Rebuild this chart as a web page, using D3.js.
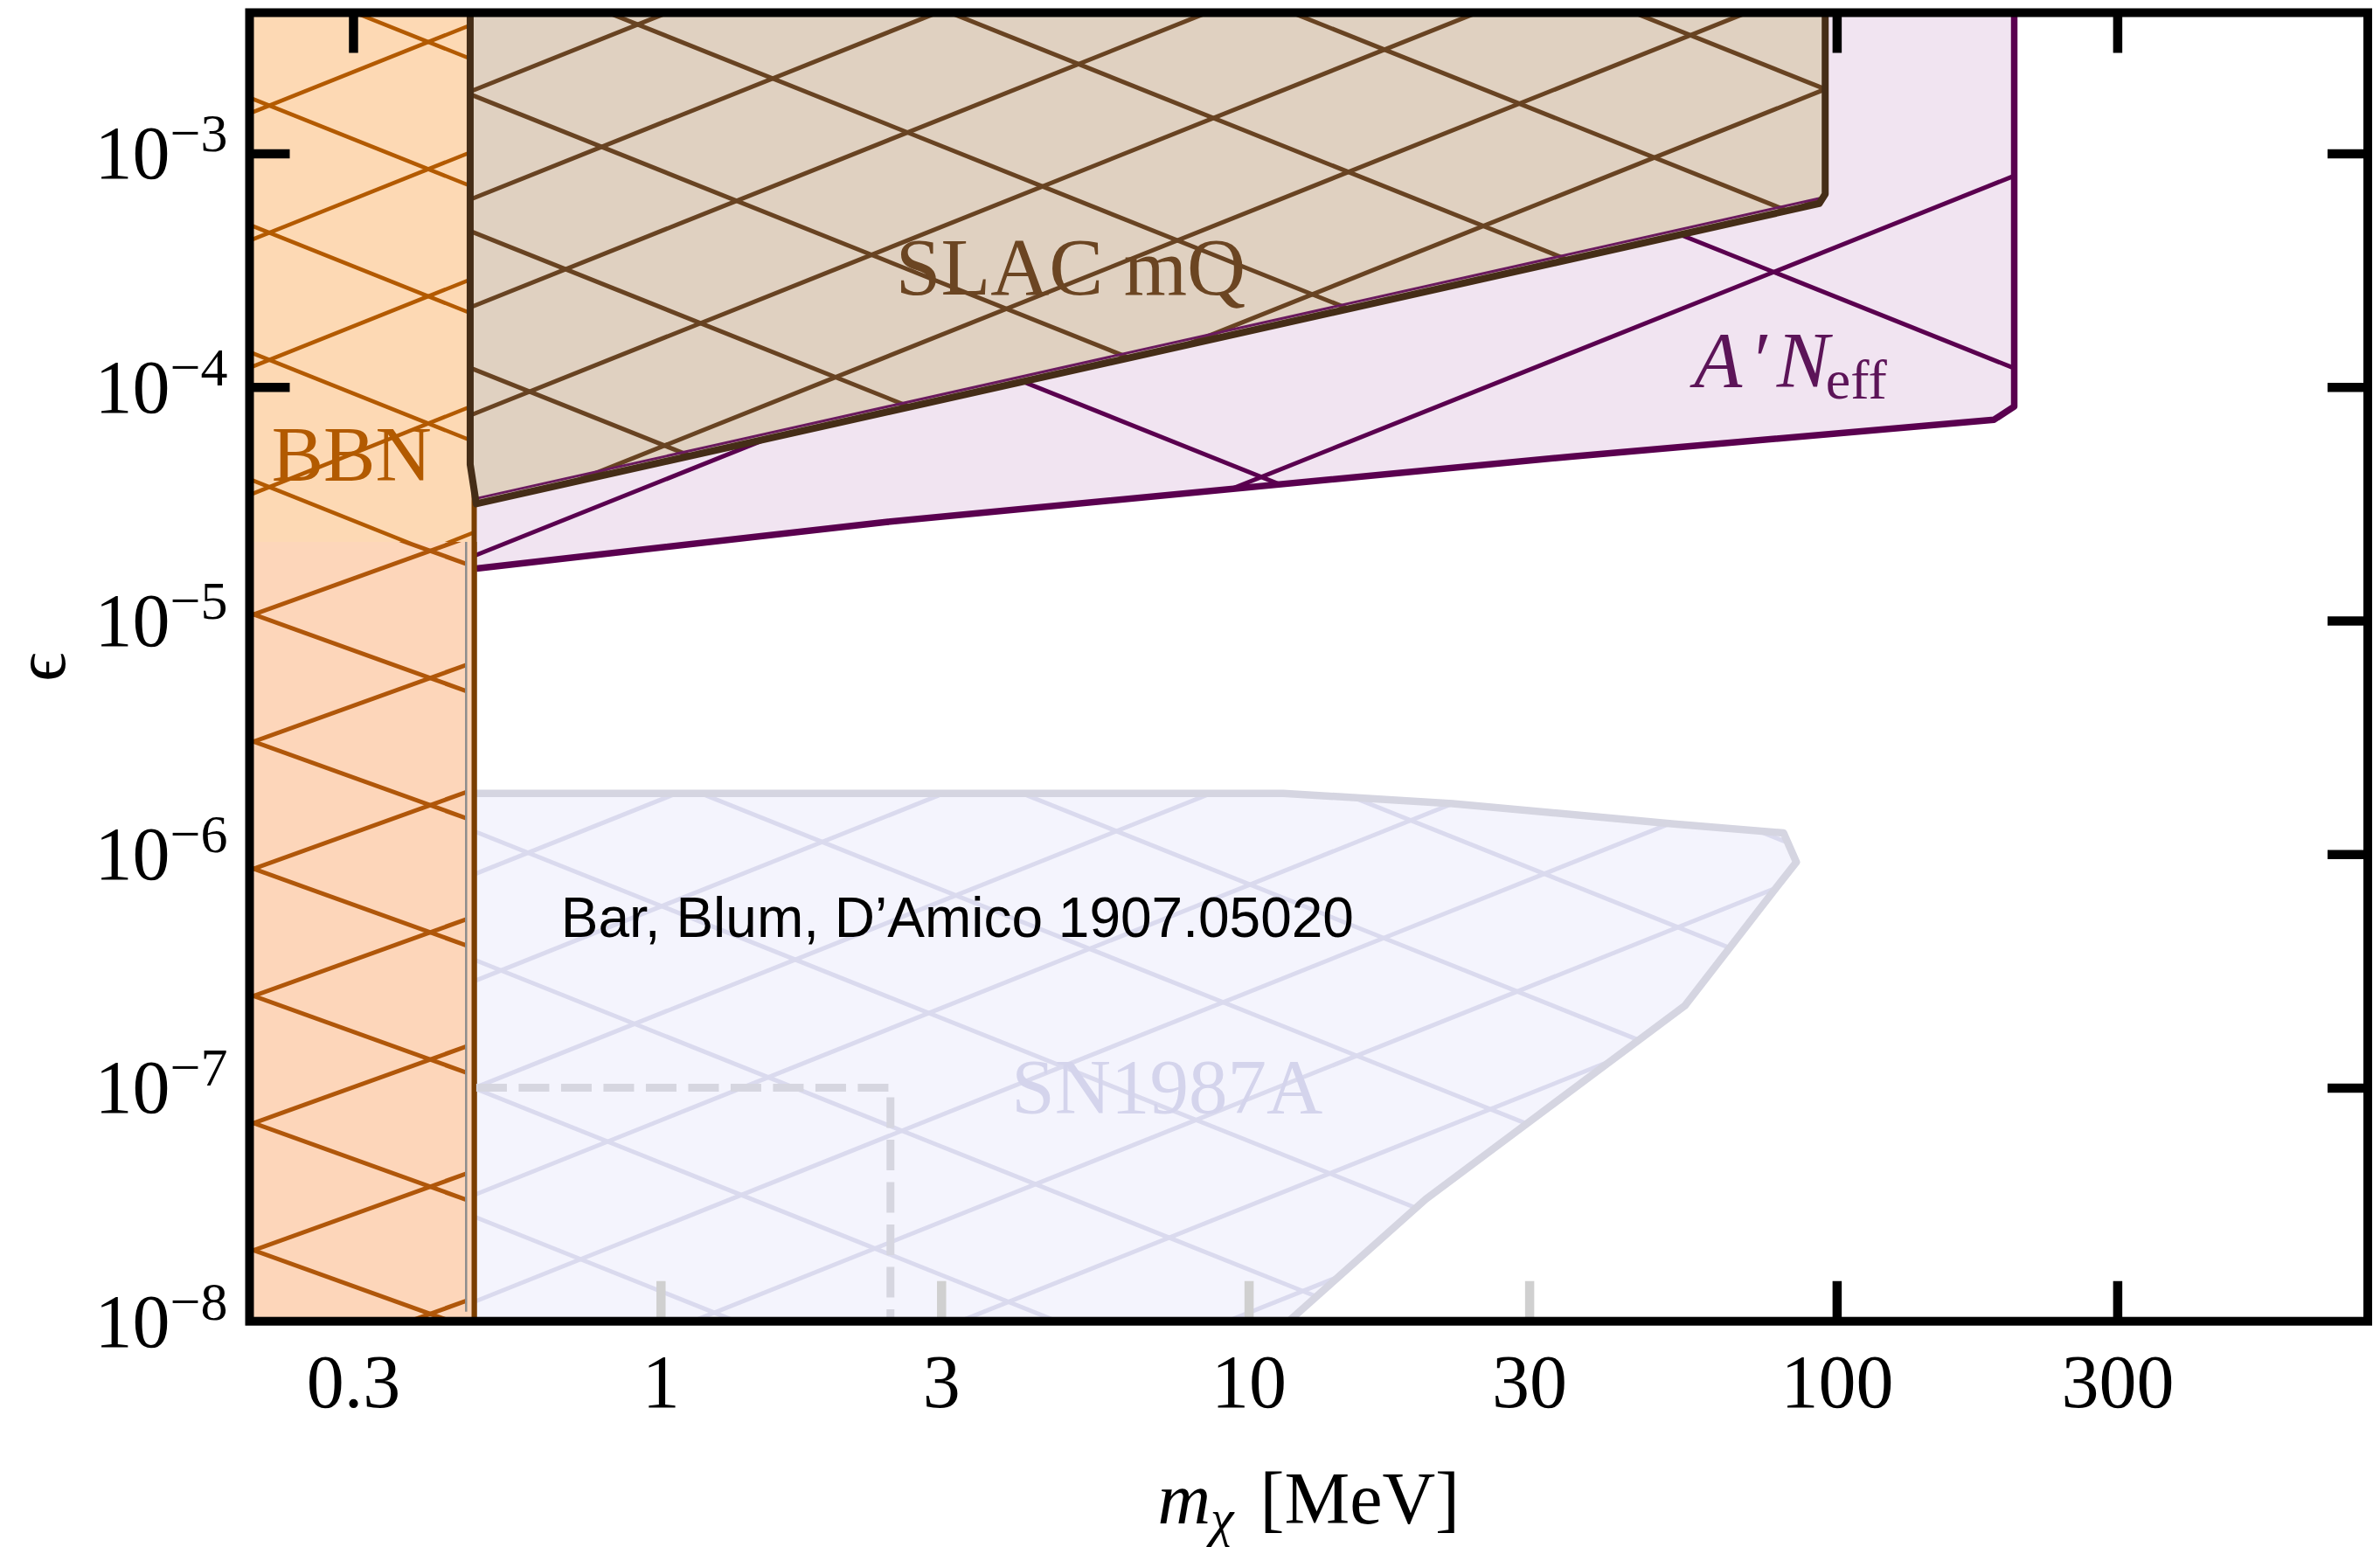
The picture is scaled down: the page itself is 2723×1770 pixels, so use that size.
<!DOCTYPE html>
<html>
<head>
<meta charset="utf-8">
<script src="https://cdn.jsdelivr.net/npm/d3@7"></script>
<style>
  body { margin: 0; background: #fff; }
  svg { display: block; }
  text { font-family: "Liberation Serif", "DejaVu Serif", serif; }
</style>
</head>
<body>
<div id="chart"></div>
<script>
// 1: DATA (mass in MeV, kinetic mixing epsilon)
const xTicks = [0.3, 1, 3, 10, 30, 100, 300];
const xTickLabels = ["0.3", "1", "3", "10", "30", "100", "300"];
const yTicks = [1e-8, 1e-7, 1e-6, 1e-5, 1e-4, 1e-3];
const yTickExponents = ["\u22128", "\u22127", "\u22126", "\u22125", "\u22124", "\u22123"];

const bbnMass = [0.2, 0.482];   // BBN excludes everything left of ~0.48 MeV
const bbnEpsSplit = 2.17e-5;    // boundary between the two BBN patches

const slacMass = [0.4745, 0.4745, 0.486, 93.4, 95.6, 95.6];
const slacEps  = [4e-3, 4.66e-5, 3.16e-5, 6.09e-4, 6.69e-4, 4e-3];

const aneffMass = [0.486, 2.42, 35.6, 185.2, 200.4, 200.4, 0.486];
const aneffEps  = [1.67e-5, 2.64e-5, 5.04e-5, 7.24e-5, 8.24e-5, 4e-3, 4e-3];

const snMass = [0.486, 0.486, 11.45, 22.24, 52.4, 81.2, 85.4, 78.3, 55.2, 20.0, 11.7];
const snEps  = [1e-8, 1.82e-6, 1.82e-6, 1.644e-6, 1.349e-6, 1.231e-6, 9.23e-7, 7.0e-7, 2.245e-7, 3.33e-8, 1e-8];

const dashMass = [0.486, 2.46, 2.46];
const dashEps  = [1e-7, 1e-7, 1e-8];

// 2: LAYOUT
const width = 2723, height = 1770;
const margin = { top: 14.5, right: 14, bottom: 258.3, left: 285.5 };

const x = d3.scaleLog().domain([0.2, 800]).range([margin.left, width - margin.right]);
const y = d3.scaleLog().domain([1e-8, 4e-3]).range([height - margin.bottom, margin.top]);

const svg = d3.select("#chart").append("svg")
    .attr("width", width)
    .attr("height", height);
const defs = svg.append("defs");

defs.append("clipPath").attr("id", "plotArea")
  .append("rect")
    .attr("x", margin.left).attr("y", margin.top)
    .attr("width", x.range()[1] - margin.left)
    .attr("height", y.range()[0] - margin.top);

const plot = svg.append("g").attr("clip-path", "url(#plotArea)");

const line = d3.line().x(d => x(d[0])).y(d => y(d[1]));
const pts = (ms, es) => d3.zip(ms, es);

// diagonal cross hatching, clipped to a region
let clipCount = 0;
function hatch(g, d, spec) {
  const id = "hatch" + (clipCount++);
  defs.append("clipPath").attr("id", id).append("path").attr("d", d);
  const grp = g.append("g").attr("clip-path", `url(#${id})`);
  const s = spec.slope;
  [[1, spec.up, spec.upStep], [-1, spec.down, spec.downStep]].forEach(([dir, c0, step]) => {
    const cMin = dir > 0 ? 0 : -s * width;
    const cMax = dir > 0 ? height + s * width : height;
    for (let k = Math.ceil((cMin - c0) / step); c0 + k * step <= cMax; k++) {
      const c = c0 + k * step;
      grp.append("line")
        .attr("x1", 0).attr("y1", c)
        .attr("x2", width).attr("y2", c - dir * s * width)
        .attr("stroke", spec.color)
        .attr("stroke-width", spec.width);
    }
  });
}

function region(g, poly, border, style) {
  const d = line(poly) + "Z";
  g.append("path").attr("d", d).attr("fill", style.fill);
  hatch(g, d, style.hatch);
  if (border) {
    g.append("path").attr("d", line(border))
      .attr("fill", "none")
      .attr("stroke", style.stroke)
      .attr("stroke-width", style.strokeWidth)
      .attr("stroke-linejoin", "round");
  }
}

// 3: REGIONS
// BBN upper patch
const bbnUpper = [[bbnMass[0], bbnEpsSplit], [bbnMass[1], bbnEpsSplit], [bbnMass[1], 4e-3], [bbnMass[0], 4e-3]];
region(plot, bbnUpper, null, {
  fill: "#fdd9b4",
  hatch: { slope: 0.4, up: 244, upStep: 145.5, down: -2.5, downStep: 145.5, color: "#b35a00", width: 4.5 }
});

// SN1987A
const snPoly = pts(snMass, snEps);
region(plot, snPoly, snPoly.slice(1), {
  fill: "#f4f4fd", stroke: "#d5d5e1", strokeWidth: 8.5,
  hatch: { slope: 0.4, up: 1217.3, upStep: 122.3, down: 734, downStep: 147, color: "#dadaee", width: 5 }
});

// A' N_eff
const aneffPoly = pts(aneffMass, aneffEps);
region(plot, aneffPoly, aneffPoly.slice(0, 6), {
  fill: "#f1e4f1", stroke: "#5a004f", strokeWidth: 7.5,
  hatch: { slope: 0.4, up: 853, upStep: 270, down: -31.5, downStep: 469, color: "#5a004f", width: 5 }
});

// BBN boundary line
plot.append("line")
    .attr("x1", x(bbnMass[1])).attr("x2", x(bbnMass[1]))
    .attr("y1", y.range()[0]).attr("y2", y.range()[1])
    .attr("stroke", "#7a3e00")
    .attr("stroke-width", 6);

// 4: TICKS (under SLAC, over the lighter regions)
function styleTicks(g, color) {
  g.select(".domain").remove();
  g.selectAll(".tick line")
    .attr("stroke", color)
    .attr("stroke-width", 10.5);
}
const tickLen = -46;
plot.append("g")
    .attr("transform", `translate(0,${y.range()[0]})`)
    .call(d3.axisBottom(x).tickValues(xTicks).tickSizeInner(tickLen).tickSizeOuter(0).tickFormat(""))
    .call(g => styleTicks(g, d => d < 50 ? "#d0d0d0" : "#000"));
plot.append("g")
    .attr("transform", `translate(0,${margin.top})`)
    .call(d3.axisTop(x).tickValues(xTicks).tickSizeInner(tickLen).tickSizeOuter(0).tickFormat(""))
    .call(g => styleTicks(g, "#000"));
plot.append("g")
    .attr("transform", `translate(${margin.left},0)`)
    .call(d3.axisLeft(y).tickValues(yTicks).tickSizeInner(tickLen).tickSizeOuter(0).tickFormat(""))
    .call(g => styleTicks(g, "#000"));
plot.append("g")
    .attr("transform", `translate(${x.range()[1]},0)`)
    .call(d3.axisRight(y).tickValues(yTicks).tickSizeInner(tickLen).tickSizeOuter(0).tickFormat(""))
    .call(g => styleTicks(g, "#000"));

// SLAC millicharge
const slacPoly = pts(slacMass, slacEps);
region(plot, slacPoly, null, {
  fill: "#e0d1c1",
  hatch: { slope: 0.4, up: 690.4, upStep: 123.5, down: -263.8, downStep: 156.5, color: "#684322", width: 5 }
});
plot.append("path")
    .attr("d", line(slacPoly.slice(2, 4)))
    .attr("transform", "translate(0,-6)")
    .attr("fill", "none")
    .attr("stroke", "#6a1a5e")
    .attr("stroke-width", 3);
plot.append("path")
    .attr("d", line(slacPoly))
    .attr("fill", "none")
    .attr("stroke", "#452d17")
    .attr("stroke-width", 8)
    .attr("stroke-linejoin", "round");

// BBN lower patch (fill reaches the boundary line, hatching stops at the patch edge)
const bbnLowerEdge = 0.467;
plot.append("rect")
    .attr("x", x(bbnMass[0]))
    .attr("y", y(bbnEpsSplit))
    .attr("width", x(bbnMass[1]) - x(bbnMass[0]))
    .attr("height", y(1e-8) - y(bbnEpsSplit))
    .attr("fill", "#fdd6ba");
const bbnLower = [[bbnMass[0], 1e-8], [bbnLowerEdge, 1e-8], [bbnLowerEdge, bbnEpsSplit], [bbnMass[0], bbnEpsSplit]];
region(plot, bbnLower, null, {
  fill: "#fdd6ba",
  hatch: { slope: 0.36, up: 807.4, upStep: 145.5, down: 598.6, downStep: 145.5, color: "#b0570a", width: 5 }
});
plot.append("line")
    .attr("x1", x(bbnLowerEdge)).attr("x2", x(bbnLowerEdge))
    .attr("y1", y(bbnEpsSplit)).attr("y2", y(1.1e-8))
    .attr("stroke", "#8c8c8c")
    .attr("stroke-width", 2.5);
plot.append("line")
    .attr("x1", x(bbnMass[1])).attr("x2", x(bbnMass[1]))
    .attr("y1", y(bbnEpsSplit)).attr("y2", y.range()[0])
    .attr("stroke", "#7a3e00")
    .attr("stroke-width", 6);

// dashed SN box
plot.append("path")
    .attr("d", line(pts(dashMass, dashEps)))
    .attr("fill", "none")
    .attr("stroke", "#d6d6e0")
    .attr("stroke-width", 9)
    .attr("stroke-dasharray", "35,13.5");

// 5: REGION LABELS
plot.append("text")
    .attr("x", x(0.218)).attr("y", y(4.0e-5))
    .attr("font-size", 89).attr("fill", "#b25a00")
    .text("BBN");

plot.append("text")
    .attr("x", x(2.51)).attr("y", y(2.48e-4))
    .attr("font-size", 93).attr("fill", "#6b4522")
    .text("SLAC mQ");

const aLabel = plot.append("text")
    .attr("x", x(57.2)).attr("y", y(1.0e-4))
    .attr("font-size", 90).attr("fill", "#5c1458");
aLabel.append("tspan").attr("font-style", "italic").text("A");
aLabel.append("tspan").attr("dx", 14).text("\u2032");
aLabel.append("tspan").attr("dx", 6).attr("font-style", "italic").text("N");
aLabel.append("tspan").attr("dy", 13).attr("dx", -4).attr("font-size", 64).text("eff");

plot.append("text")
    .attr("x", x(3.95)).attr("y", y(7.8e-8))
    .attr("font-size", 89).attr("fill", "#d4d4ec")
    .text("SN1987A");

plot.append("text")
    .attr("x", x(0.677)).attr("y", y(4.43e-7))
    .attr("font-size", 64)
    .style("font-family", "'Liberation Sans', Arial, sans-serif")
    .attr("fill", "#000")
    .text("Bar, Blum, D\u2019Amico 1907.05020");

// 6: FRAME
svg.append("rect")
    .attr("x", margin.left).attr("y", margin.top)
    .attr("width", x.range()[1] - margin.left)
    .attr("height", y.range()[0] - margin.top)
    .attr("fill", "none")
    .attr("stroke", "#000")
    .attr("stroke-width", 10);

// 7: TICK LABELS AND AXIS TITLES
svg.append("g")
    .attr("transform", `translate(0,${y.range()[0]})`)
    .call(d3.axisBottom(x).tickValues(xTicks).tickSize(0).tickPadding(37)
      .tickFormat(d => xTickLabels[xTicks.indexOf(d)]))
    .call(g => g.select(".domain").remove())
    .call(g => g.selectAll("text")
      .attr("font-size", 86)
      .style("font-family", "'Liberation Serif', serif")
      .attr("fill", "#000"));

const yLab = svg.append("g").selectAll("text")
  .data(yTicks)
  .join("text")
    .attr("x", margin.left - 25)
    .attr("y", d => y(d) + 29)
    .attr("text-anchor", "end")
    .attr("fill", "#000");
yLab.append("tspan").attr("font-size", 86).text("10");
yLab.append("tspan").attr("font-size", 62).attr("dy", -31)
    .text((d, i) => yTickExponents[i]);

svg.append("text")
    .attr("transform", `translate(74,${(margin.top + y.range()[0]) / 2}) rotate(-90)`)
    .attr("text-anchor", "middle")
    .attr("font-size", 82)
    .text("\u03f5");

const xTitle = svg.append("text")
    .attr("x", (margin.left + x.range()[1]) / 2)
    .attr("y", 1743)
    .attr("text-anchor", "middle")
    .attr("font-size", 84);
xTitle.append("tspan").attr("font-style", "italic").text("m");
xTitle.append("tspan").attr("font-style", "italic").attr("font-size", 60).attr("dy", 14).text("\u03c7");
xTitle.append("tspan").attr("dy", -14).attr("dx", 30).text("[MeV]");
</script>
</body>
</html>
